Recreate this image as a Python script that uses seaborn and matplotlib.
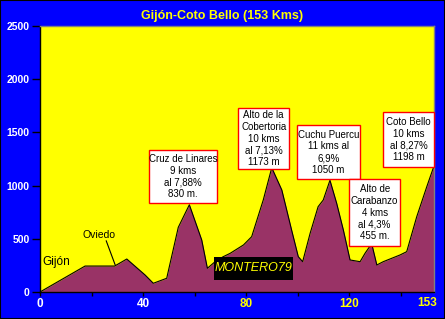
import matplotlib
matplotlib.use('Agg')
import matplotlib.pyplot as plt
import seaborn as sns
import pandas as pd
from matplotlib.patches import Rectangle

# ---- data ----
km = [0, 17.5, 29, 33.7, 40.8, 44, 49.2, 53.7, 58, 62.8, 65, 68, 71, 73.8, 79, 82.2,
      86.7, 90, 93.9, 97.7, 100.3, 102, 104.9, 108, 110, 112.6, 115.2, 117.8, 120.4,
      124.3, 126.2, 128.8, 130.8, 133.3, 139.8, 142.4, 146.3, 150.2, 153]
elev = [0, 244, 244, 310, 160, 82, 129, 608, 820, 489, 223, 285, 330, 363, 442, 520,
        865, 1168, 959, 583, 332, 285, 552, 802, 865, 1050, 834, 583, 301,
        285, 363, 455, 254, 285, 348, 379, 708, 990, 1185]

yticks = [0, 500, 1000, 1500, 2000, 2500]
xticks_major = [0, 40, 80, 120]
xticks_minor = [20, 60, 100, 140]
xlabel_colors = ['white', 'white', '#FFFF00', '#FFFF00']

title = 'Gijón-Coto Bello (153 Kms)'

box_texts = [
    'Cruz de Linares\n9 kms\nal 7,88%\n830 m.',
    'Alto de la\nCobertoria\n10 kms\nal 7,13%\n1173 m',
    'Cuchu Puercu\n11 kms al\n6,9%\n1050 m',
    'Alto de\nCarabanzo\n4 kms\nal 4,3%\n455 m.',
    'Coto Bello\n10 kms\nal 8,27%\n1198 m',
]
# box extents (x0, x1, y0, y1) in data units
box_extents = [
    (42.4, 68.9, 834, 1334),
    (77.0, 96.7, 1156, 1726),
    (99.7, 124.3, 1059, 1569),
    (120.1, 139.8, 435, 1059),
    (133.3, 153.0, 1178, 1689),
]

# ---- style ----
sns.set_style('white')
plt.rcParams['font.family'] = ['Liberation Sans', 'DejaVu Sans']

fig = plt.figure(figsize=(4.45, 3.19), dpi=100, facecolor='#0000FF')
ax = fig.add_axes([40/445, 27/319, 394/445, 266/319])
ax.set_facecolor('#FFFF00')

df = pd.DataFrame({'km': km, 'elev': elev})
ax.fill_between(df['km'], df['elev'], color='#993366', lw=0, zorder=2)
sns.lineplot(data=df, x='km', y='elev', ax=ax, color='black', lw=0.8, zorder=3)

ax.set_xlim(0, 153)
ax.set_ylim(0, 2500)
ax.set_xlabel('')
ax.set_ylabel('')

ax.set_yticks(yticks)
ax.set_yticklabels([str(v) for v in yticks], color='white', fontsize=7.5, fontweight='bold')
ax.tick_params(axis='y', direction='out', length=6, width=1, color='black', pad=1.5, left=True)

ax.set_xticks(xticks_major)
ax.set_xticks(xticks_minor, minor=True)
ax.set_xticklabels([str(v) for v in xticks_major], fontsize=8.5, fontweight='bold')
for lab, c in zip(ax.get_xticklabels(), xlabel_colors):
    lab.set_color(c)
ax.tick_params(axis='x', which='both', direction='out', length=3, width=1, color='black', pad=1.5, bottom=True)
ax.text(154.3, -45, '153', ha='right', va='top', fontsize=8.5, fontweight='bold',
        color='#FFFF00', clip_on=False)

for s in ['left', 'bottom']:
    ax.spines[s].set_color('black')
    ax.spines[s].set_linewidth(1)
for s in ['top', 'right']:
    ax.spines[s].set_color('#808080')
    ax.spines[s].set_linewidth(1)
ax.grid(False)

fig.text(222.5/445, 1 - 16/319, title, ha='center', va='center', color='#FFFF00',
         fontsize=9, fontweight='bold')

# annotation boxes
for txt, (x0, x1, y0, y1) in zip(box_texts, box_extents):
    ax.add_patch(Rectangle((x0, y0), x1 - x0, y1 - y0, facecolor='white',
                           edgecolor='#FF0000', lw=1, zorder=5, clip_on=False))
    ax.text((x0 + x1) / 2, (y0 + y1) / 2, txt, ha='center', va='center', fontsize=7,
            linespacing=1.22, color='black', zorder=6, clip_on=False)

# place labels
ax.text(0.8, 285, 'Gijón', ha='left', va='center', fontsize=8.5, color='black', zorder=4)
ax.text(23.1, 536, 'Oviedo', ha='center', va='center', fontsize=7.5, color='black', zorder=4)
ax.plot([25.7, 29.2], [482, 254], color='black', lw=0.8, zorder=4)

# signature box
ax.add_patch(Rectangle((67.6, 113), 30.7, 216, facecolor='black', edgecolor='none', zorder=5))
ax.text((67.6 + 98.3) / 2, 221, 'MONTERO79', ha='center', va='center', fontsize=9,
        style='italic', color='#FFFF00', zorder=6)

fig.add_artist(Rectangle((0, 0), 1, 1, transform=fig.transFigure, fill=False,
                         edgecolor='black', lw=1.5))

fig.savefig('out.png', dpi=100, facecolor=fig.get_facecolor())
